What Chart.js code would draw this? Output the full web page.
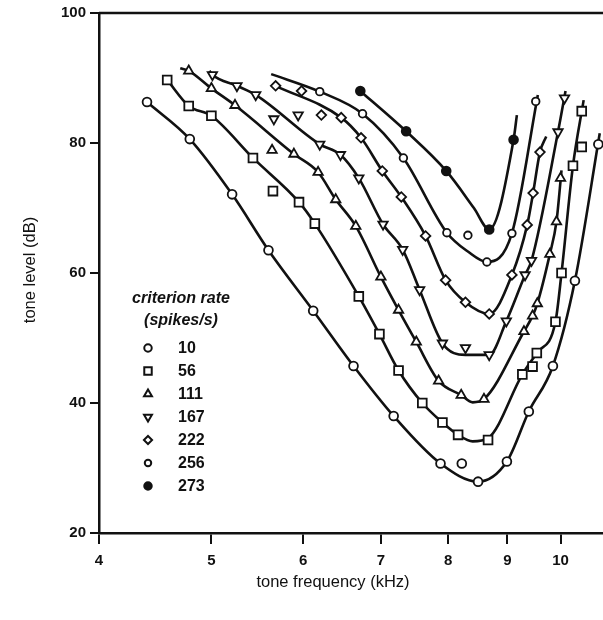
<!DOCTYPE html>
<html>
<head>
<meta charset="utf-8">
<script src="https://cdn.jsdelivr.net/npm/chart.js@4.4.1/dist/chart.umd.min.js"></script>
<style>
  html, body { margin: 0; padding: 0; background: #fff; }
  canvas { display: block; }
</style>
</head>
<body>
<canvas id="tuning" width="603" height="620"></canvas>
<script>
// criterion rates (spikes/s), one tuning curve each
const rates = ["10", "56", "111", "167", "222", "256", "273"];

// measured points: tone frequency (kHz) / tone level (dB)
const freq10  = [4.40, 4.79, 5.21, 5.60, 6.12, 6.63, 7.18, 7.88, 8.22, 8.49, 8.99, 9.39, 9.85, 10.29, 10.78];
const level10 = [86.3, 80.6, 72.1, 63.5, 54.2, 45.7, 38.0, 30.7, 30.7, 27.9, 31.0, 38.7, 45.7, 58.8, 79.8];
const freq56  = [4.58, 4.78, 5.00, 5.43, 5.65, 5.95, 6.14, 6.70, 6.98, 7.25, 7.60, 7.91, 8.16, 8.66, 9.27, 9.46, 9.54, 9.90, 10.02, 10.25, 10.43, 10.43];
const level56 = [89.7, 85.7, 84.2, 77.7, 72.6, 70.9, 67.6, 56.4, 50.6, 45.0, 40.0, 37.0, 35.1, 34.3, 44.4, 45.6, 47.7, 52.5, 60.0, 76.5, 79.4, 84.9];
const freq111  = [4.78, 5.00, 5.24, 5.64, 5.89, 6.18, 6.40, 6.66, 7.00, 7.25, 7.51, 7.85, 8.21, 8.59, 9.30, 9.46, 9.55, 9.79, 9.92, 10.00];
const level111 = [91.1, 88.4, 85.8, 78.9, 78.3, 75.5, 71.3, 67.2, 59.4, 54.3, 49.4, 43.4, 41.2, 40.6, 51.0, 53.4, 55.3, 62.9, 67.9, 74.6];
const freq167  = [5.01, 5.26, 5.46, 5.66, 5.94, 6.20, 6.46, 6.70, 7.03, 7.31, 7.56, 7.91, 8.28, 8.68, 8.98, 9.32, 9.44, 9.95, 10.08];
const level167 = [90.5, 88.8, 87.4, 83.7, 84.3, 79.8, 78.2, 74.6, 67.5, 63.6, 57.4, 49.2, 48.5, 47.4, 52.6, 59.7, 61.9, 81.7, 86.9];
const freq222  = [5.68, 5.98, 6.22, 6.47, 6.73, 7.02, 7.29, 7.65, 7.96, 8.28, 8.68, 9.08, 9.36, 9.47, 9.60];
const level222 = [88.8, 88.0, 84.3, 83.9, 80.8, 75.7, 71.7, 65.7, 58.9, 55.5, 53.7, 59.7, 67.4, 72.3, 78.6];
const freq256  = [6.20, 6.75, 7.32, 7.98, 8.32, 8.64, 9.08, 9.52];
const level256 = [87.9, 84.5, 77.7, 66.2, 65.8, 61.7, 66.1, 86.4];
const freq273  = [6.72, 7.36, 7.97, 8.68, 9.11];
const level273 = [88.0, 81.8, 75.7, 66.7, 80.5];

// the drawn (fitted) curves
const curveFreq10  = [4.40, 4.79, 5.21, 5.60, 6.12, 6.63, 7.18, 7.88, 8.49, 8.99, 9.39, 9.85, 10.29, 10.81];
const curveLevel10 = [86.3, 80.6, 72.1, 63.5, 54.2, 45.7, 38.0, 30.7, 27.9, 31.0, 38.7, 45.7, 58.8, 81.5];
const curveFreq56  = [4.58, 4.78, 5.00, 5.43, 5.95, 6.14, 6.70, 6.98, 7.25, 7.60, 7.91, 8.16, 8.40, 8.66, 9.27, 9.54, 9.90, 10.02, 10.25, 10.47];
const curveLevel56 = [89.7, 85.7, 84.2, 77.7, 70.9, 67.6, 56.4, 50.6, 45.0, 40.0, 37.0, 35.1, 34.1, 34.6, 44.4, 47.7, 52.5, 60.0, 76.5, 86.6];
const curveFreq111  = [4.70, 4.78, 5.00, 5.24, 5.89, 6.18, 6.40, 6.66, 7.00, 7.25, 7.51, 7.85, 8.21, 8.40, 8.59, 9.30, 9.46, 9.55, 9.79, 9.92, 10.02];
const curveLevel111 = [91.5, 91.1, 88.4, 85.8, 78.3, 75.5, 71.3, 67.2, 59.4, 54.3, 49.4, 43.4, 41.2, 40.1, 40.6, 51.0, 53.4, 55.3, 62.9, 67.9, 75.8];
const curveFreq167  = [4.98, 5.01, 5.26, 5.46, 6.20, 6.46, 6.70, 7.03, 7.31, 7.56, 7.91, 8.28, 8.68, 8.98, 9.32, 9.44, 9.95, 10.10];
const curveLevel167 = [91.1, 90.5, 88.8, 87.4, 79.8, 78.2, 74.6, 67.5, 63.6, 57.4, 49.2, 47.4, 47.4, 52.6, 59.7, 61.9, 81.7, 88.0];
const curveFreq222  = [5.68, 6.47, 6.73, 7.02, 7.29, 7.65, 7.96, 8.28, 8.68, 9.08, 9.36, 9.47, 9.60, 9.72];
const curveLevel222 = [88.8, 83.9, 80.8, 75.7, 71.7, 65.7, 58.9, 55.5, 53.7, 59.7, 67.4, 72.3, 78.6, 81.0];
const curveFreq256  = [5.63, 6.20, 6.75, 7.32, 7.98, 8.32, 8.64, 9.08, 9.56];
const curveLevel256 = [90.6, 87.9, 84.5, 77.7, 66.2, 63.3, 61.7, 66.1, 87.4];
const curveFreq273  = [6.68, 7.36, 7.97, 8.42, 8.68, 9.11, 9.17];
const curveLevel273 = [88.4, 81.8, 75.7, 70.0, 66.7, 80.5, 84.3];

const xTicks = [4, 5, 6, 7, 8, 9, 10];

const markerFreqs = [freq10, freq56, freq111, freq167, freq222, freq256, freq273];
const markerLevels = [level10, level56, level111, level167, level222, level256, level273];
const curveFreqs = [curveFreq10, curveFreq56, curveFreq111, curveFreq167, curveFreq222, curveFreq256, curveFreq273];
const curveLevels = [curveLevel10, curveLevel56, curveLevel111, curveLevel167, curveLevel222, curveLevel256, curveLevel273];

// marker look per rate
const INK = "#111";
const markerStyle = [
  { pointStyle: "circle",   radius: 4.4, rotation: 0,   fill: "#fff" },
  { pointStyle: "rect",     radius: 6.2, rotation: 0,   fill: "#fff" },
  { pointStyle: "triangle", radius: 5.4, rotation: 0,   fill: "#fff" },
  { pointStyle: "triangle", radius: 5.4, rotation: 180, fill: "#fff" },
  { pointStyle: "rectRot",  radius: 4.8, rotation: 0,   fill: "#fff" },
  { pointStyle: "circle",   radius: 3.8, rotation: 0,   fill: "#fff" },
  { pointStyle: "circle",   radius: 4.4, rotation: 0,   fill: INK }
];

const FONT = "'Liberation Sans', Arial, Helvetica, sans-serif";

const zip = (xs, ys) => xs.map((x, i) => ({ x: x, y: ys[i] }));

const datasets = [];
rates.forEach((r, i) => {
  datasets.push({
    label: r + " curve",
    data: zip(curveFreqs[i], curveLevels[i]),
    showLine: true,
    borderColor: INK,
    borderWidth: 2.6,
    pointRadius: 0,
    cubicInterpolationMode: "monotone",
    order: 2
  });
});
rates.forEach((r, i) => {
  const s = markerStyle[i];
  datasets.push({
    label: r,
    data: zip(markerFreqs[i], markerLevels[i]),
    showLine: false,
    pointStyle: s.pointStyle,
    pointRotation: s.rotation,
    pointRadius: s.radius,
    pointBorderWidth: 1.8,
    pointBorderColor: INK,
    pointBackgroundColor: s.fill,
    order: 1
  });
});

// white page, top frame line and the two axis titles
const framePlugin = {
  id: "frame",
  beforeDraw(chart) {
    const c = chart.ctx;
    c.save();
    c.fillStyle = "#fff";
    c.fillRect(0, 0, chart.width, chart.height);
    c.restore();
  },
  afterDraw(chart) {
    const c = chart.ctx, a = chart.chartArea;
    c.save();
    c.strokeStyle = INK;
    c.lineWidth = 2.5;
    c.beginPath();
    c.moveTo(a.left, a.top);
    c.lineTo(chart.width, a.top);
    c.stroke();

    c.fillStyle = INK;
    c.font = "16.5px " + FONT;
    c.textAlign = "center";
    c.textBaseline = "middle";
    c.fillText("tone frequency (kHz)", 333, 582);
    c.translate(30, 270);
    c.rotate(-Math.PI / 2);
    c.fillText("tone level (dB)", 0, 0);
    c.restore();
  }
};

// legend block inside the plot
const keyPlugin = {
  id: "key",
  afterDraw(chart) {
    const c = chart.ctx;
    c.save();
    c.fillStyle = INK;
    c.textBaseline = "middle";
    c.textAlign = "center";
    c.font = "italic bold 16px " + FONT;
    c.fillText("criterion rate", 181, 299);
    c.fillText("(spikes/s)", 181, 321);
    c.textAlign = "left";
    c.font = "bold 16px " + FONT;
    const rowY = [348, 371, 394, 417, 440, 463, 486];
    rates.forEach((r, i) => {
      const s = markerStyle[i];
      c.strokeStyle = INK;
      c.fillStyle = s.fill;
      c.lineWidth = 2;
      Chart.helpers.drawPoint(c, {
        pointStyle: s.pointStyle,
        rotation: s.rotation,
        radius: s.radius * 0.85,
        borderWidth: 2
      }, 148, rowY[i]);
      c.fillStyle = INK;
      c.fillText(r, 178, rowY[i] + 1);
    });
    c.restore();
  }
};

new Chart(document.getElementById("tuning"), {
  type: "scatter",
  data: { datasets: datasets },
  plugins: [framePlugin, keyPlugin],
  options: {
    responsive: false,
    animation: false,
    devicePixelRatio: 1,
    layout: { autoPadding: false, padding: { top: 13, right: 0, bottom: 0, left: 0 } },
    plugins: {
      legend: { display: false },
      tooltip: { enabled: false }
    },
    scales: {
      x: {
        type: "logarithmic",
        min: 4,
        max: 10.88,
        afterBuildTicks: (scale) => {
          scale.ticks = xTicks.map((v) => ({ value: v }));
        },
        afterFit: (scale) => {
          scale.height = 87;
          // plot runs right up to the page edge
          scale.paddingLeft = 0;
          scale.paddingRight = 0;
        },
        grid: { display: true, drawOnChartArea: false, drawTicks: true, tickLength: 11, color: INK, lineWidth: 2 },
        border: { display: true, color: INK, width: 2.5 },
        ticks: {
          autoSkip: false,
          maxRotation: 0,
          padding: 8,
          color: INK,
          font: { family: FONT, size: 15, weight: "bold" },
          callback: (v) => String(v)
        },
        title: { display: false }
      },
      y: {
        type: "linear",
        min: 20,
        max: 100,
        afterFit: (scale) => { scale.width = 99; },
        grid: { display: true, drawOnChartArea: false, drawTicks: true, tickLength: 9, color: INK, lineWidth: 2 },
        border: { display: true, color: INK, width: 2.5 },
        ticks: {
          stepSize: 20,
          padding: 4,
          color: INK,
          font: { family: FONT, size: 15, weight: "bold" }
        },
        title: { display: false }
      }
    }
  }
});
</script>
</body>
</html>
